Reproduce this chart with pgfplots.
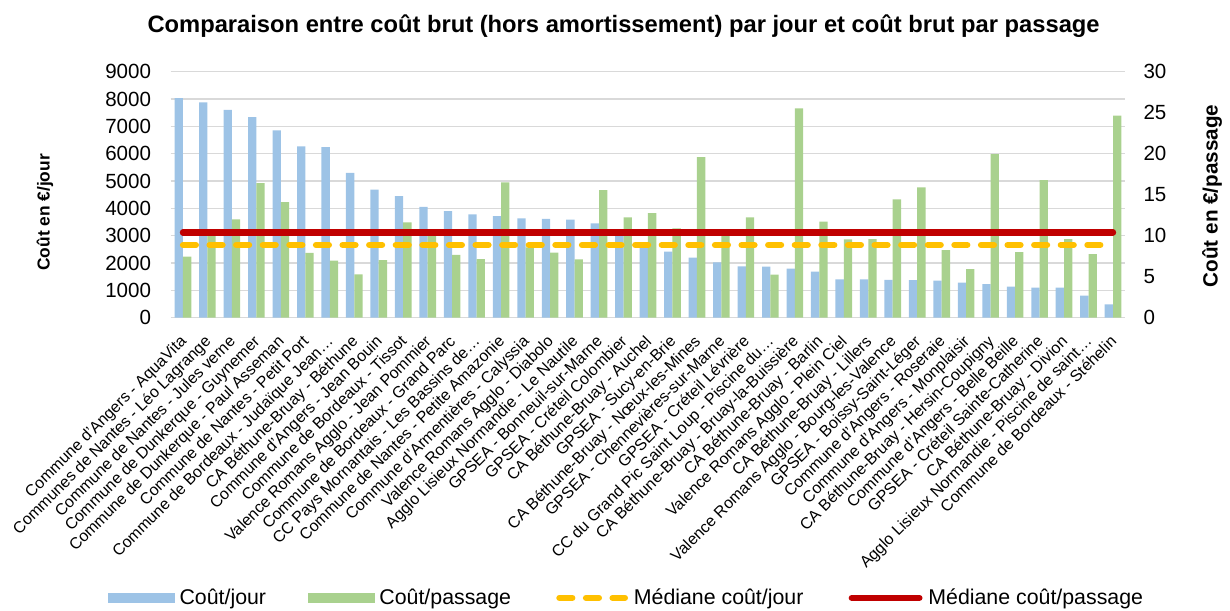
\documentclass[border=0pt]{standalone}
\usepackage{fontspec}
\setmainfont{Liberation Sans}
\usepackage{pgfplots}
\usepackage{pgfplotstable}
\pgfplotsset{compat=1.18}
\definecolor{cblue}{HTML}{9DC3E6}
\definecolor{cgreen}{HTML}{A9D18E}
\definecolor{cyellow}{HTML}{FFC000}
\definecolor{cred}{HTML}{C00000}
\definecolor{cgrid}{HTML}{D9D9D9}

\pgfplotstableread{
x jour passage
1 8030 7.44
2 7880 10.5
3 7600 12.0
4 7340 16.4
5 6850 14.1
6 6270 7.89
7 6245 6.95
8 5295 5.28
9 4685 7.03
10 4450 11.63
11 4050 10.45
12 3900 7.65
13 3780 7.15
14 3720 16.5
15 3635 8.58
16 3620 7.93
17 3585 7.11
18 3450 15.57
19 3050 12.24
20 2660 12.76
21 2415 10.89
22 2195 19.59
23 2025 10.4
24 1880 12.24
25 1865 5.24
26 1795 25.53
27 1685 11.71
28 1405 9.55
29 1400 9.59
30 1380 14.43
31 1378 15.89
32 1354 8.25
33 1280 5.93
34 1232 19.96
35 1134 8.01
36 1098 16.79
37 1098 9.59
38 805 7.76
39 488 24.63
}\data

\pgfplotsset{
  common/.style={
    at={(128.03pt,219.23pt)}, anchor=south west,
    scale only axis, width=715.9pt, height=184.5pt,
    xmin=0.5, xmax=39.5, ymin=0,
    axis line style={draw=none},
    major tick length=0pt,
    scaled y ticks=false,
    /pgf/number format/assume math mode=true,
    /pgf/number format/1000 sep={},
    ybar, bar width=0.34,
    tick label style={font=\fontsize{15.4}{18}\selectfont},
  },
  barleg/.style={legend image code/.code={\fill[##1] (0pt,-3.75pt) rectangle (50pt,3.75pt); \path (51.5pt,0pt);}},
  yellowleg/.style={legend image code/.code={\draw[##1] (2.4pt,0pt) -- (51.6pt,0pt); \path (0pt,0pt) (54pt,0pt);}},
  redleg/.style={legend image code/.code={\draw[##1] (2.4pt,0pt) -- (53.1pt,0pt); \path (0pt,0pt) (55.5pt,0pt);}},
}

\begin{document}
\begin{tikzpicture}
\begin{axis}[common,
  ymax=9000, ytick={0,1000,...,9000},
  ymajorgrids, grid style={cgrid, line width=1.1pt},
  bar shift=-0.17,
  yticklabel style={anchor=east, inner sep=0pt, xshift=-14.6pt},
  xtick={1,...,39},
  xticklabel style={font=\fontsize{12}{14}\selectfont, xshift=-3pt, yshift=-12.2pt, rotate=45, anchor=north east, inner sep=0pt},
  xticklabels={Commune d'Angers - AquaVita, Communes de Nantes - Léo Lagrange, Commune de Nantes - Jules verne, Commune de Dunkerque - Guynemer, Commune de Dunkerque - Paul Asseman, Commune de Nantes - Petit Port, Commune de Bordeaux - Judaïque Jean…, CA Béthune-Bruay - Béthune, Commune d'Angers - Jean Bouin, Commune de Bordeaux - Tissot, Valence Romans Agglo - Jean Pommier, Commune de Bordeaux - Grand Parc, CC Pays Mornantais - Les Bassins de…, Commune de Nantes - Petite Amazonie, Commune d'Armentières - Calyssia, Valence Romans Agglo - Diabolo, Agglo Lisieux Normandie - Le Nautile, GPSEA - Bonneuil-sur-Marne, GPSEA - Créteil Colombier, CA Béthune-Bruay - Auchel, GPSEA - Sucy-en-Brie, CA Béthune-Bruay - Nœux-les-Mines, GPSEA - Chennevières-sur-Marne, GPSEA - Créteil Lévrière, CC du Grand Pic Saint Loup - Piscine du…, CA Béthune-Bruay - Bruay-la-Buissière, CA Béthune-Bruay - Barlin, Valence Romans Agglo - Plein Ciel, CA Béthune-Bruay - Lillers, Valence Romans Agglo - Bourg-les-Valence, GPSEA - Boissy-Saint-Léger, Commune d'Angers - Roseraie, Commune d'Angers - Monplaisir, CA Béthune-Bruay - Hersin-Coupigny, Commune d'Angers - Belle Beille, GPSEA - Créteil Sainte-Catherine, CA Béthune-Bruay - Divion, Agglo Lisieux Normandie - Piscine de saint…, Commune de Bordeaux - Stéhelin},
  ylabel={Coût en €/jour},
  every axis y label/.style={at={(axis description cs:-0.1317,0.428)}, rotate=90, anchor=center, font=\bfseries\fontsize{13}{15}\selectfont},
]
\addplot[fill=cblue, draw=none] table[x=x, y=jour]{\data};
\end{axis}

\begin{axis}[common,
  ymax=30, ytick={0,5,...,30},
  xtick=\empty,
  bar shift=0.17,
  yticklabel pos=right,
  yticklabel style={anchor=west, inner sep=0pt, xshift=13.5pt},
  ylabel={Coût en €/passage},
  every axis y label/.style={at={(axis description cs:1.091,0.495)}, rotate=90, anchor=center, font=\bfseries\fontsize{15.5}{18}\selectfont},
  legend columns=4,
  legend style={at={(axis description cs:0.478,-1.139)}, anchor=center, draw=none, fill=none,
    font=\fontsize{16}{19}\selectfont,
    /tikz/every even column/.append style={column sep=29.5pt},
    cells={anchor=west}},
  legend entries={Coût/jour, Coût/passage, Médiane coût/jour, Médiane coût/passage},
]
\addlegendimage{fill=cblue, draw=none, barleg}
\addplot[fill=cgreen, draw=none, barleg] table[x=x, y=passage]{\data};
\addplot[sharp plot, cyellow, line width=4.6pt, line cap=round, dash pattern=on 9.75pt off 10.2pt, yellowleg] coordinates {(1,8.87) (39,8.87)};
\addplot[sharp plot, cred, line width=4.7pt, line cap=round, redleg] coordinates {(1,10.4) (39,10.4)};
\end{axis}

\node[font=\bfseries\fontsize{17.8}{21}\selectfont] at (467.7pt,438.0pt) {Comparaison entre coût brut (hors amortissement) par jour et coût brut par passage};

\pgfresetboundingbox
\path[use as bounding box] (0pt,0pt) rectangle (922.5pt,457.5pt);
\end{tikzpicture}
\end{document}
